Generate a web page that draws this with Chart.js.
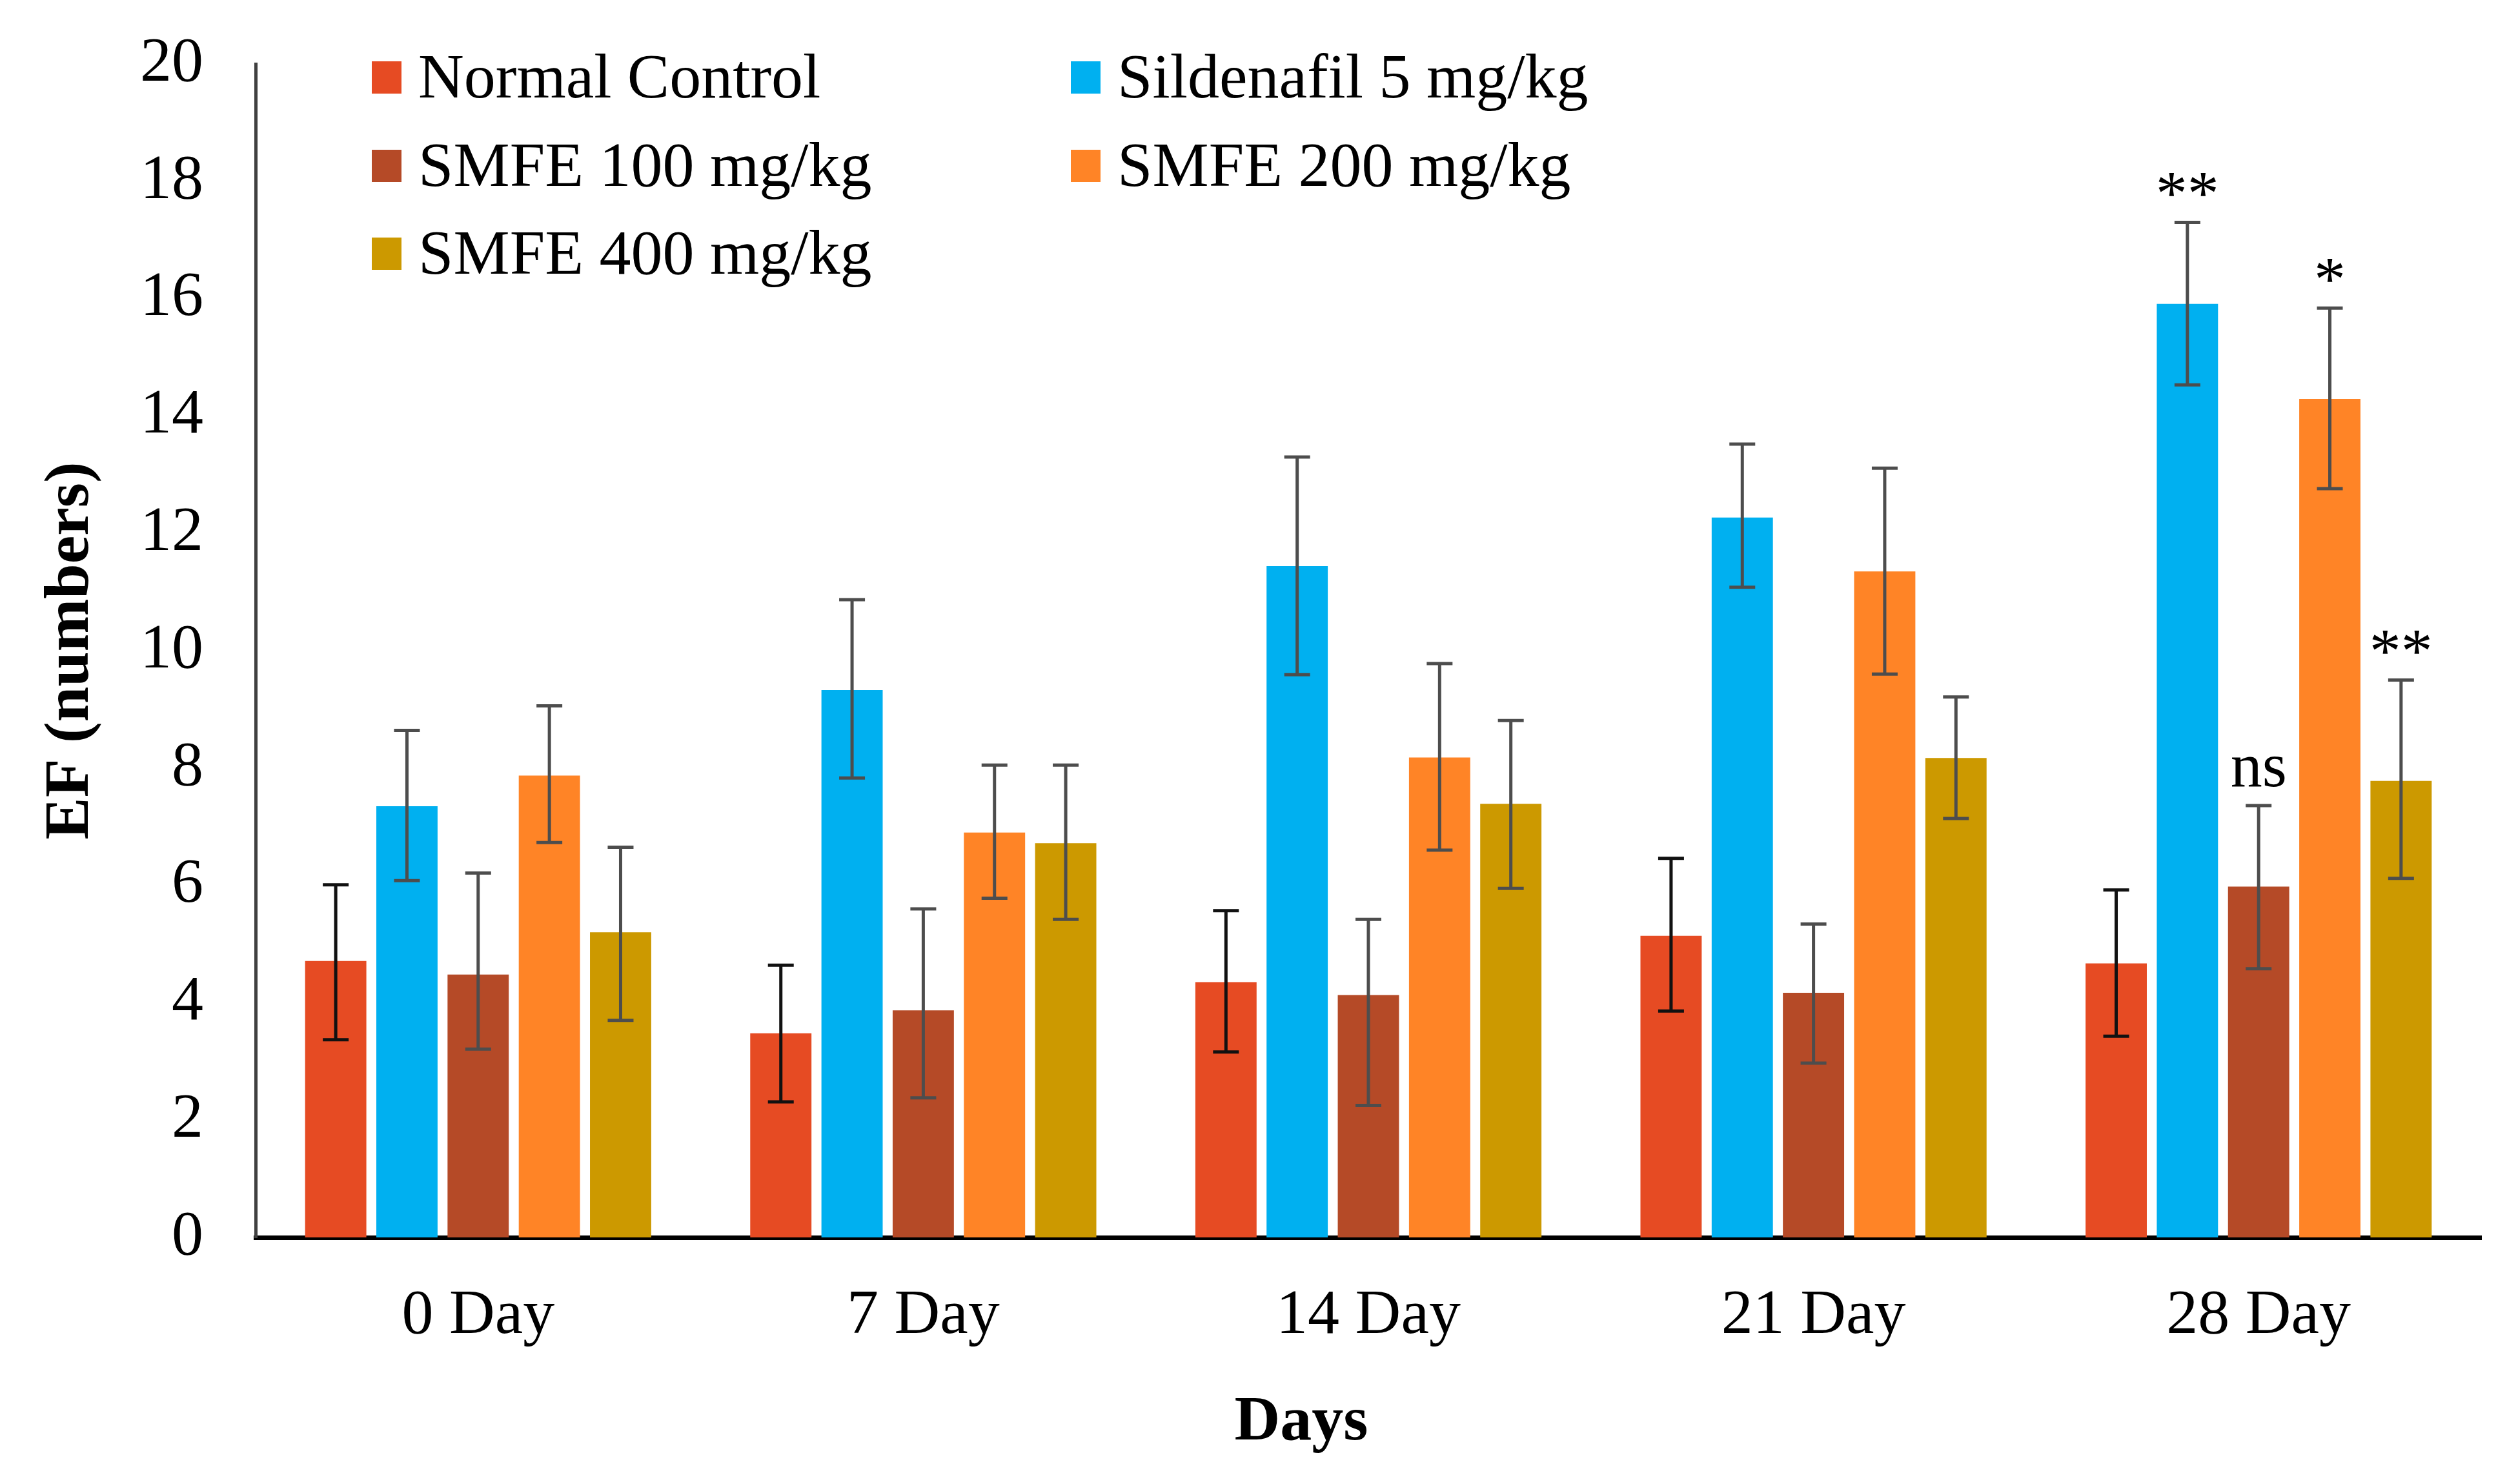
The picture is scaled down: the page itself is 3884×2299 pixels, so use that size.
<!DOCTYPE html>
<html>
<head>
<meta charset="utf-8">
<script src="https://cdn.jsdelivr.net/npm/chart.js@4.4.0/dist/chart.umd.min.js"></script>
<style>
  html, body { margin: 0; padding: 0; background: #fff; }
  canvas { display: block; }
</style>
</head>
<body>
<canvas id="graficoEF" width="3884" height="2299"></canvas>
<script>
// data
const days = ['0 Day', '7 Day', '14 Day', '21 Day', '28 Day'];
const groups = ['Normal Control', 'Sildenafil 5 mg/kg', 'SMFE 100 mg/kg', 'SMFE 200 mg/kg', 'SMFE 400 mg/kg'];
const yTicks = [0, 2, 4, 6, 8, 10, 12, 14, 16, 18, 20];

const normalControl = [4.71, 3.48, 4.35, 5.14, 4.67];
const sildenafil5 = [7.35, 9.33, 11.44, 12.27, 15.91];
const smfe100 = [4.48, 3.87, 4.13, 4.17, 5.98];
const smfe200 = [7.87, 6.90, 8.18, 11.35, 14.29];
const smfe400 = [5.20, 6.72, 7.39, 8.17, 7.78];

// error bar ends (upper / lower), same order as groups
const errUpper = [
    [6.01, 4.64, 5.57, 6.46, 5.92],
    [8.64, 10.87, 13.30, 13.52, 17.30],
    [6.21, 5.60, 5.42, 5.34, 7.36],
    [9.06, 8.05, 9.78, 13.11, 15.84],
    [6.65, 8.05, 8.81, 9.21, 9.50]
];
const errLower = [
    [3.37, 2.31, 3.16, 3.86, 3.43],
    [6.08, 7.83, 9.59, 11.08, 14.53],
    [3.21, 2.38, 2.25, 2.97, 4.58],
    [6.73, 5.78, 6.60, 9.60, 12.76],
    [3.70, 5.42, 5.95, 7.14, 6.12]
];

// significance marks on the 28 Day group
const sigDay = 4;
const sigMarks = ['', '**', 'ns', '*', '**'];

const colors = ['#E64B23', '#00B0F0', '#B54A27', '#FF8426', '#CC9900'];
const serif = 'Liberation Serif, Times New Roman, serif';

const errorBars = {
    id: 'errorBars',
    afterDatasetsDraw(chart) {
        const ctx = chart.ctx;
        const y = chart.scales.y;
        chart.data.datasets.forEach((ds, i) => {
            chart.getDatasetMeta(i).data.forEach((bar, j) => {
                const top = y.getPixelForValue(errUpper[i][j]);
                const bottom = y.getPixelForValue(errLower[i][j]);
                ctx.save();
                ctx.strokeStyle = i === 0 ? '#111111' : '#4d4d4d';
                ctx.lineWidth = 5;
                ctx.beginPath();
                ctx.moveTo(bar.x, top);
                ctx.lineTo(bar.x, bottom);
                ctx.moveTo(bar.x - 20, top);
                ctx.lineTo(bar.x + 20, top);
                ctx.moveTo(bar.x - 20, bottom);
                ctx.lineTo(bar.x + 20, bottom);
                ctx.stroke();
                ctx.restore();
            });
        });

        // ns / asterisks above the error bars
        ctx.save();
        ctx.font = `98px ${serif}`;
        ctx.fillStyle = '#000';
        ctx.textAlign = 'center';
        ctx.textBaseline = 'alphabetic';
        sigMarks.forEach((txt, i) => {
            if (!txt) return;
            const bar = chart.getDatasetMeta(i).data[sigDay];
            const top = y.getPixelForValue(errUpper[i][sigDay]);
            const gap = txt.includes('*') ? 12 : 30;
            ctx.fillText(txt, bar.x, top - gap);
        });
        ctx.restore();
    }
};

const legendGrid = {
    id: 'legendGrid',
    afterDraw(chart) {
        const ctx = chart.ctx;
        const colX = [576, 1659];
        const rowY = [120, 257, 393];
        ctx.save();
        ctx.font = `98px ${serif}`;
        ctx.textBaseline = 'alphabetic';
        ctx.textAlign = 'left';
        chart.data.datasets.forEach((ds, i) => {
            const x = colX[i % 2];
            const yc = rowY[Math.floor(i / 2)];
            ctx.fillStyle = ds.backgroundColor;
            ctx.fillRect(x, yc - 25, 46, 50);
            ctx.fillStyle = '#000';
            ctx.fillText(ds.label, x + 72, yc + 31);
        });

        // x axis title sits a little left of the plot centre in the original
        ctx.font = `bold 98px ${serif}`;
        ctx.textAlign = 'center';
        ctx.textBaseline = 'middle';
        ctx.fillText('Days', 2016, 2205);
        ctx.restore();
    }
};

window.onload = function () {
    const ctx = document.getElementById('graficoEF').getContext('2d');
    const series = [normalControl, sildenafil5, smfe100, smfe200, smfe400];

    const data = {
        labels: days,
        datasets: series.map((values, i) => ({
            label: groups[i],
            data: values,
            backgroundColor: colors[i],
            borderWidth: 0,
            categoryPercentage: 0.8,
            barPercentage: 0.86
        }))
    };

    const options = {
        responsive: false,
        maintainAspectRatio: false,
        devicePixelRatio: 1,
        animation: false,
        layout: { padding: { top: 99, right: 40, left: 0, bottom: 0 } },
        plugins: {
            legend: { display: false },
            tooltip: { enabled: false }
        },
        scales: {
            x: {
                grid: { display: false, drawTicks: false },
                border: { display: true, color: '#000', width: 7 },
                ticks: { color: '#000', padding: 63, font: { family: serif, size: 98 } },
                title: { display: false },
                afterFit: (s) => { s.height = 382; }
            },
            y: {
                min: 0,
                max: 20,
                grid: { display: false, drawTicks: false },
                border: { display: true, color: '#404040', width: 5 },
                afterBuildTicks: (s) => { s.ticks = yTicks.map(v => ({ value: v })); },
                ticks: { color: '#000', padding: 81, font: { family: serif, size: 98 } },
                title: {
                    display: true,
                    text: 'EF (numbers)',
                    color: '#000',
                    padding: { top: 52, bottom: 0 },
                    font: { family: serif, size: 98, weight: 'bold' }
                },
                afterFit: (s) => {
                    s.width = 396;
                    s.paddingTop = 0;
                    s.paddingBottom = 0;
                }
            }
        }
    };

    new Chart(ctx, { type: 'bar', data, options, plugins: [errorBars, legendGrid] });
};
</script>
</body>
</html>
